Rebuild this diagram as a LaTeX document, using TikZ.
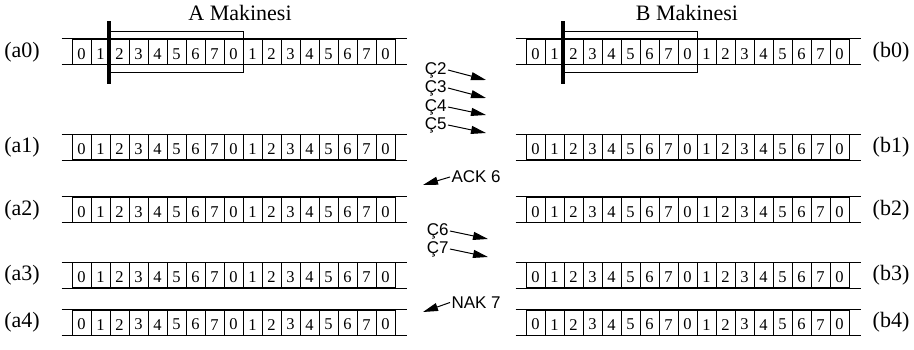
\documentclass[tikz,border=0pt]{standalone}
\usepackage{fontspec}
\setmainfont{Liberation Serif}
\setsansfont{Liberation Sans}
\usetikzlibrary{arrows.meta,fit}
\begin{document}
\begin{tikzpicture}[x=1pt,y=-1pt,line width=1pt,
cell/.style={draw,minimum width=19pt,minimum height=25pt,inner sep=0pt,text height=15pt,font=\fontsize{16.5}{17}\selectfont},
lbl/.style={font=\fontsize{22}{24}\selectfont},
msg/.style={font=\sffamily\fontsize{17}{18}\selectfont,inner sep=1pt},
sig/.style={-{Triangle[length=15pt,width=8pt]}}]
\useasboundingbox (0,0) rectangle (914,350);
\node[lbl] (atitle) at (240,13) {A Makinesi};
\node[lbl] (btitle) at (687,13) {B Makinesi};
\foreach \r/\yy in {0/52,1/147.5,2/210,3/275,4/322.5} {
  \foreach \s/\xx/\lx in {a/72/22,b/526/891} {
    \foreach \i in {0,...,16} {
      \pgfmathtruncatemacro\d{mod(\i,8)}
      \node[cell] (\s\r-\i) at ({\xx+9.5+19*\i},\yy) {\d};
    }
    \draw ([xshift=-10pt]\s\r-0.north west) -- ([xshift=11pt]\s\r-16.north east);
    \draw ([xshift=-10pt]\s\r-0.south west) -- ([xshift=11pt]\s\r-16.south east);
    \node[lbl] (\s\r) at (\lx,\yy) {(\s\r)};
  }
}
\foreach \s in {a,b} {
  \node[draw,inner xsep=0pt,inner ysep=7.5pt,fit=(\s0-2) (\s0-8)] (\s win) {};
  \draw[line width=4pt] ([yshift=9.5pt]\s win.north west) -- ([yshift=-11.5pt]\s win.south west);
}
\node[msg,anchor=east] (c2) at (448,70) {Ç2};
\node[msg,anchor=east] (c3) at (448,88) {Ç3};
\node[msg,anchor=east] (c4) at (448,107) {Ç4};
\node[msg,anchor=east] (c5) at (448,125) {Ç5};
\node[msg,anchor=west] (ack) at (450,177) {ACK 6};
\node[msg,anchor=east] (c6) at (450,231) {Ç6};
\node[msg,anchor=east] (c7) at (450,249) {Ç7};
\node[msg,anchor=west] (nak) at (450,302.5) {NAK 7};
\coordinate (c2tip) at (486,80);
\coordinate (c3tip) at (486,98);
\coordinate (c4tip) at (486,115);
\coordinate (c5tip) at (486,133);
\coordinate (acktip) at (423,185);
\coordinate (c6tip) at (488,239);
\coordinate (c7tip) at (488,257);
\coordinate (naktip) at (423,312);
\foreach \m in {c2,c3,c4,c5,c6,c7} {
  \draw[sig] (\m.east) -- (\m tip);
}
\draw[sig] (ack.west) -- (acktip);
\draw[sig] (nak.west) -- (naktip);
\end{tikzpicture}
\end{document}
